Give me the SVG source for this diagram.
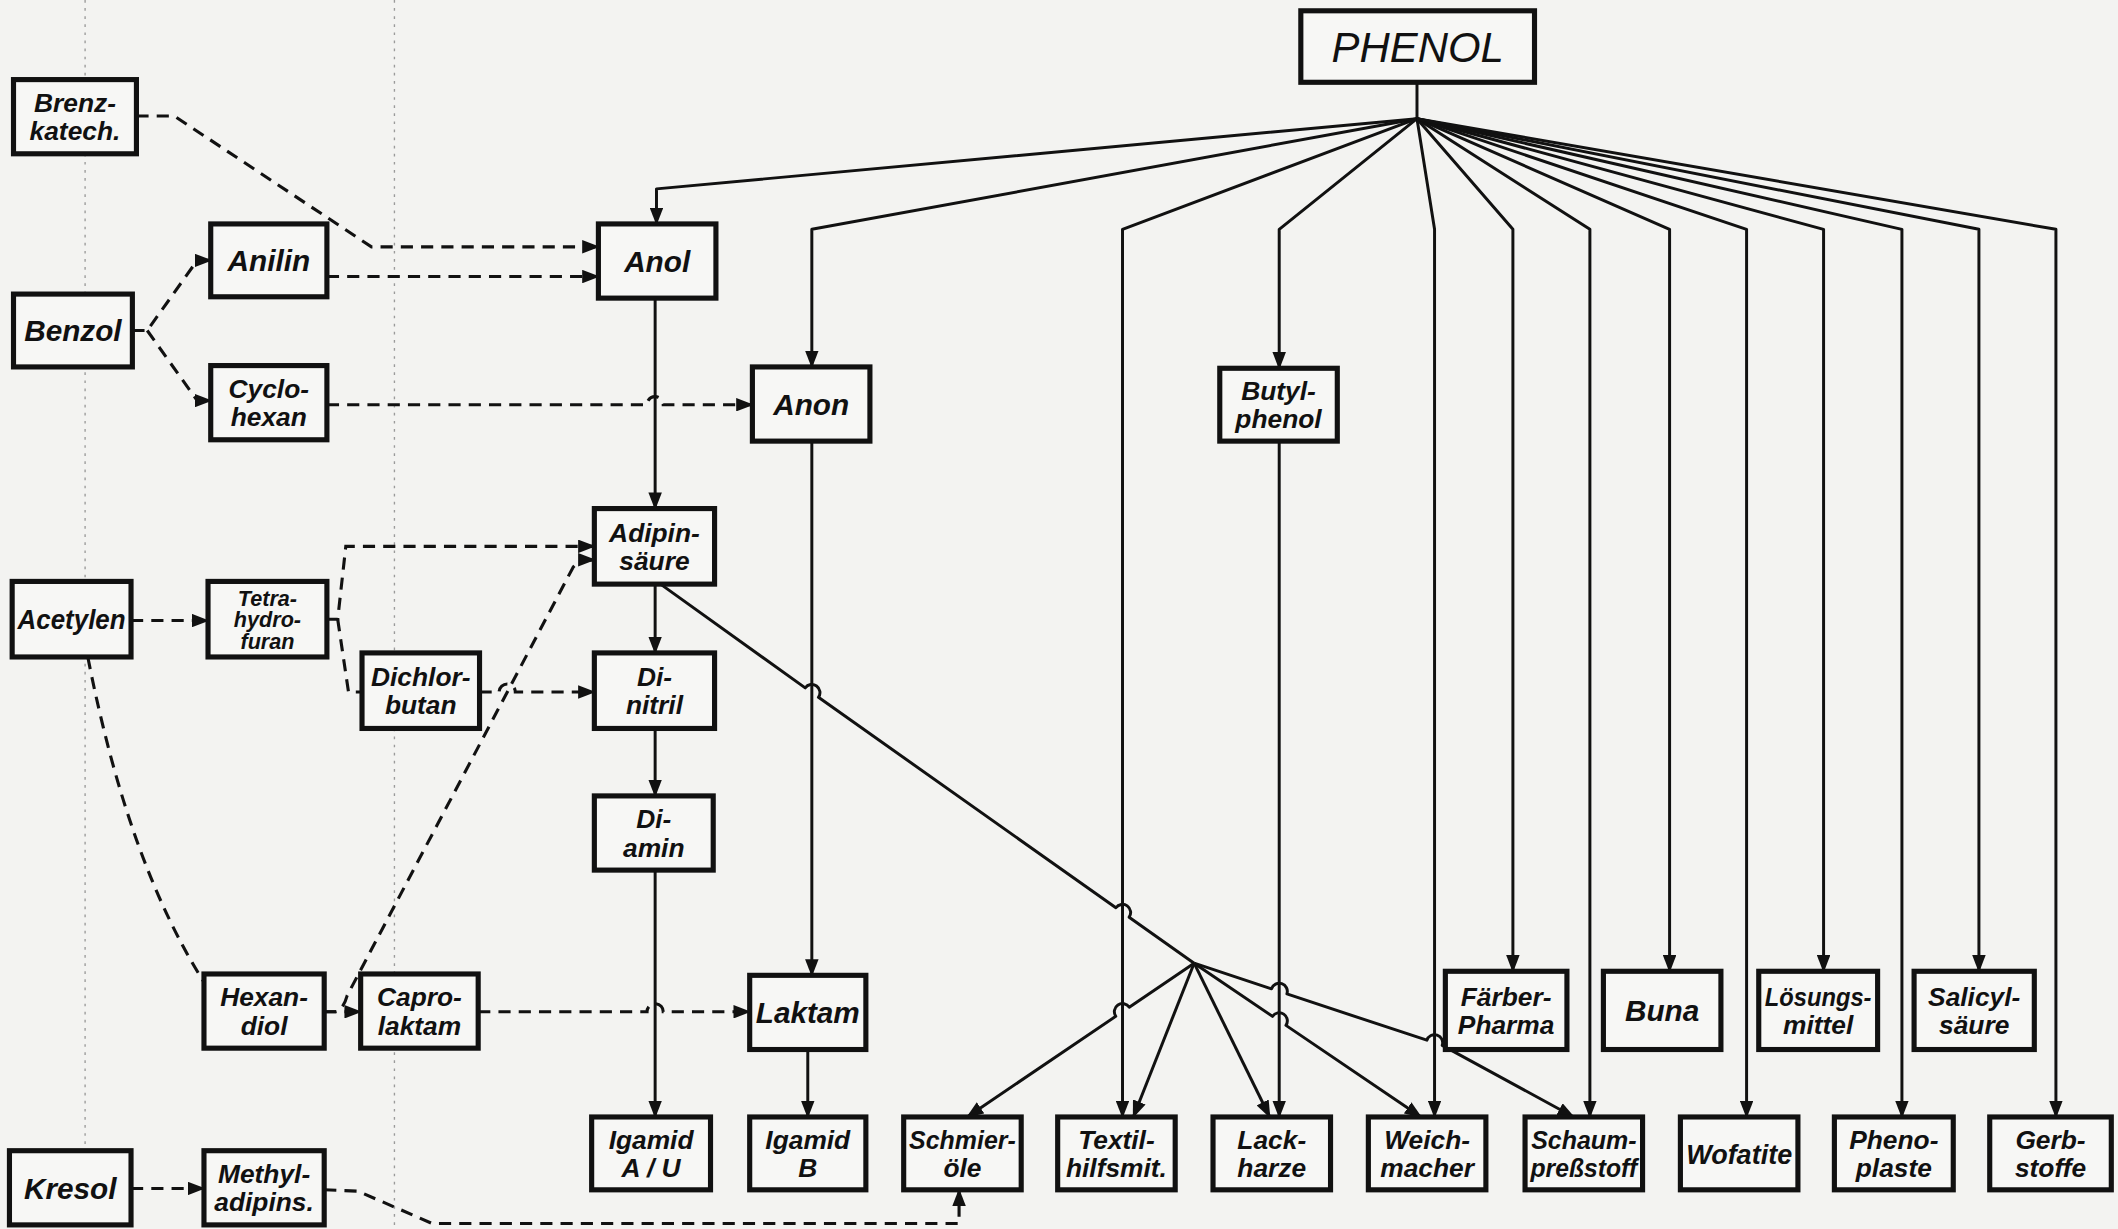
<svg xmlns="http://www.w3.org/2000/svg" width="2118" height="1229" viewBox="0 0 2118 1229">
<style>
.bg{fill:#f3f3f1}
.box{fill:#f7f7f5;stroke:#111;stroke-width:3.8}
.lbl{font-family:"Liberation Sans",Arial,sans-serif;font-weight:bold;font-style:italic;font-size:19.5px;fill:#111;text-anchor:middle}
.one{font-size:22px}
.three{font-size:16px}
.ph{font-weight:normal;font-size:31px}
.solid{fill:none;stroke:#111;stroke-width:2.2;stroke-linejoin:round}
.dash{fill:none;stroke:#111;stroke-width:2.3;stroke-dasharray:9 6}
.fold{fill:none;stroke:#9a9a9a;stroke-width:1;stroke-dasharray:2 4}
</style>
<defs>
<marker id="ah" markerUnits="userSpaceOnUse" markerWidth="13" markerHeight="10" viewBox="0 0 13 10" refX="12" refY="5" orient="auto">
<path d="M0,0 L13,5 L0,10 z" fill="#111"/>
</marker>
</defs>
<rect class="bg" x="0" y="0" width="2118" height="1229"/>
<g transform="scale(1.3508,1.349)">
<g id="folds">
<line class="fold" x1="63" y1="0" x2="63" y2="911"/>
<line class="fold" x1="292" y1="0" x2="292" y2="911"/>
</g>
<g id="connectors">
<path class="solid" d="M1049,61 L1049,88"/>
<path class="solid" marker-end="url(#ah)" d="M1049,88 L486,140 L486,166"/>
<path class="solid" marker-end="url(#ah)" d="M1049,88 L601,170 L601,272"/>
<path class="solid" marker-end="url(#ah)" d="M1049,88 L831,170 L831,828"/>
<path class="solid" marker-end="url(#ah)" d="M1049,88 L947,170 L947,273"/>
<path class="solid" marker-end="url(#ah)" d="M1049,88 L1062,170 L1062,828"/>
<path class="solid" marker-end="url(#ah)" d="M1049,88 L1120,170 L1120,720"/>
<path class="solid" marker-end="url(#ah)" d="M1049,88 L1177,170 L1177,828"/>
<path class="solid" marker-end="url(#ah)" d="M1049,88 L1236,170 L1236,720"/>
<path class="solid" marker-end="url(#ah)" d="M1049,88 L1293,170 L1293,828"/>
<path class="solid" marker-end="url(#ah)" d="M1049,88 L1350,170 L1350,720"/>
<path class="solid" marker-end="url(#ah)" d="M1049,88 L1408,170 L1408,828"/>
<path class="solid" marker-end="url(#ah)" d="M1049,88 L1465,170 L1465,720"/>
<path class="solid" marker-end="url(#ah)" d="M1049,88 L1522,170 L1522,828"/>
<path class="solid" marker-end="url(#ah)" d="M485,221 L485,377"/>
<path class="solid" marker-end="url(#ah)" d="M485,433 L485,484"/>
<path class="solid" marker-end="url(#ah)" d="M485,540 L485,590"/>
<path class="solid" marker-end="url(#ah)" d="M485,645 L485,828"/>
<path class="solid" marker-end="url(#ah)" d="M601,327 L601,723"/>
<path class="solid" marker-end="url(#ah)" d="M598,778 L598,828"/>
<path class="solid" marker-end="url(#ah)" d="M947,327 L947,828"/>
<path class="solid" d="M489,433 L596.1,509.9 A6,6 0 0 1 605.9,516.9 L826.1,672.9 A6,6 0 0 1 835.9,679.9 L884,714"/>
<path class="solid" marker-end="url(#ah)" d="M884,714 L836,746.6 A6,6 0 0 0 826,753.4 L716,828"/>
<path class="solid" marker-end="url(#ah)" d="M884,714 L839,828"/>
<path class="solid" marker-end="url(#ah)" d="M884,714 L940,828"/>
<path class="solid" marker-end="url(#ah)" d="M884,714 L942,753.4 A6,6 0 0 1 952,760.1 L1052,828"/>
<path class="solid" marker-end="url(#ah)" d="M884,714 L941.3,733 A6,6 0 0 1 952.7,736.8 L1056.3,771.1 A6,6 0 0 1 1067.7,774.9 L1165,828"/>
<path class="dash" marker-end="url(#ah)" d="M101,86 L129,86 L275,183 L443,183"/>
<path class="dash" marker-end="url(#ah)" d="M242,205 L443,205"/>
<path class="dash" marker-end="url(#ah)" d="M98,245 L109,245 L146,193 L156,193"/>
<path class="dash" marker-end="url(#ah)" d="M109,245 L146,297 L156,297"/>
<path class="dash" marker-end="url(#ah)" d="M242,300 L479,300 A6,6 0 0 1 491,300 L557,300"/>
<path class="dash" marker-end="url(#ah)" d="M97,460 L154,460"/>
<path class="dash" marker-end="url(#ah)" d="M242,459 L250,459 L256,405 L440,405"/>
<path class="dash" d="M250,459 L258,513 L268,513"/>
<path class="dash" marker-end="url(#ah)" d="M355,513 L369.5,513 A6,6 0 0 1 381.5,513 L440,513"/>
<path class="dash" marker-end="url(#ah)" d="M240,750 L248,750 Q254,749 257,738 L424,421 Q428,415 440,415"/>
<path class="dash" marker-end="url(#ah)" d="M240,750 L267,750"/>
<path class="dash" d="M65,487 Q95,640 151,728"/>
<path class="dash" marker-end="url(#ah)" d="M354,750 L479,750 A6,6 0 0 1 491,750 L555,750"/>
<path class="dash" marker-end="url(#ah)" d="M97,881 L151,881"/>
<path class="dash" marker-end="url(#ah)" d="M240,882 L265,883 L320,907 L710,907 L710,882"/>
</g>
<g id="phenol"><rect class="box" x="963" y="8" width="173" height="53"/><text class="lbl ph" x="1049.5" y="46">PHENOL</text></g>
<g id="brenzkatech"><rect class="box" x="10" y="59" width="91" height="55"/><text class="lbl" x="55.5" y="83">Brenz-</text><text class="lbl" x="55.5" y="104">katech.</text></g>
<g id="benzol"><rect class="box" x="10" y="218" width="88" height="54"/><text class="lbl one" x="54" y="253">Benzol</text></g>
<g id="anilin"><rect class="box" x="156" y="166" width="86" height="54"/><text class="lbl one" x="199" y="201">Anilin</text></g>
<g id="cyclohexan"><rect class="box" x="156" y="271" width="86" height="55"/><text class="lbl" x="199" y="295">Cyclo-</text><text class="lbl" x="199" y="316">hexan</text></g>
<g id="acetylen"><rect class="box" x="9" y="431" width="88" height="56"/><text class="lbl" x="53" y="466" style="font-size:20px" textLength="80" lengthAdjust="spacingAndGlyphs">Acetylen</text></g>
<g id="tetrahydrofuran"><rect class="box" x="154" y="431" width="88" height="56"/><text class="lbl three" x="198" y="449">Tetra-</text><text class="lbl three" x="198" y="465">hydro-</text><text class="lbl three" x="198" y="481">furan</text></g>
<g id="dichlorbutan"><rect class="box" x="268" y="484" width="87" height="56"/><text class="lbl" x="311.5" y="508.5">Dichlor-</text><text class="lbl" x="311.5" y="529.5">butan</text></g>
<g id="hexandiol"><rect class="box" x="151" y="722" width="89" height="55"/><text class="lbl" x="195.5" y="746">Hexan-</text><text class="lbl" x="195.5" y="767">diol</text></g>
<g id="caprolaktam"><rect class="box" x="267" y="722" width="87" height="55"/><text class="lbl" x="310.5" y="746">Capro-</text><text class="lbl" x="310.5" y="767">laktam</text></g>
<g id="kresol"><rect class="box" x="7" y="853" width="90" height="55"/><text class="lbl one" x="52" y="888.5">Kresol</text></g>
<g id="methyladipins"><rect class="box" x="151" y="853" width="89" height="55"/><text class="lbl" x="195.5" y="877">Methyl-</text><text class="lbl" x="195.5" y="898">adipins.</text></g>
<g id="anol"><rect class="box" x="443" y="166" width="87" height="55"/><text class="lbl one" x="486.5" y="201.5">Anol</text></g>
<g id="adipinsaeure"><rect class="box" x="440" y="377" width="89" height="56"/><text class="lbl" x="484.5" y="401.5">Adipin-</text><text class="lbl" x="484.5" y="422.5">säure</text></g>
<g id="dinitril"><rect class="box" x="440" y="484" width="89" height="56"/><text class="lbl" x="484.5" y="508.5">Di-</text><text class="lbl" x="484.5" y="529.5">nitril</text></g>
<g id="diamin"><rect class="box" x="440" y="590" width="88" height="55"/><text class="lbl" x="484" y="614">Di-</text><text class="lbl" x="484" y="635">amin</text></g>
<g id="igamidAU"><rect class="box" x="438" y="828" width="88" height="54"/><text class="lbl" x="482" y="851.5">Igamid</text><text class="lbl" x="482" y="872.5">A / U</text></g>
<g id="anon"><rect class="box" x="557" y="272" width="87" height="55"/><text class="lbl one" x="600.5" y="307.5">Anon</text></g>
<g id="laktam"><rect class="box" x="555" y="723" width="86" height="55"/><text class="lbl one" x="598" y="758.5">Laktam</text></g>
<g id="igamidB"><rect class="box" x="555" y="828" width="86" height="54"/><text class="lbl" x="598" y="851.5">Igamid</text><text class="lbl" x="598" y="872.5">B</text></g>
<g id="butylphenol"><rect class="box" x="903" y="273" width="87" height="54"/><text class="lbl" x="946.5" y="296.5">Butyl-</text><text class="lbl" x="946.5" y="317.5">phenol</text></g>
<g id="schmieroele"><rect class="box" x="669" y="828" width="87" height="54"/><text class="lbl" x="712.5" y="851.5" textLength="79" lengthAdjust="spacingAndGlyphs">Schmier-</text><text class="lbl" x="712.5" y="872.5">öle</text></g>
<g id="textilhilfsmit"><rect class="box" x="783" y="828" width="87" height="54"/><text class="lbl" x="826.5" y="851.5">Textil-</text><text class="lbl" x="826.5" y="872.5">hilfsmit.</text></g>
<g id="lackharze"><rect class="box" x="898" y="828" width="87" height="54"/><text class="lbl" x="941.5" y="851.5">Lack-</text><text class="lbl" x="941.5" y="872.5">harze</text></g>
<g id="weichmacher"><rect class="box" x="1013" y="828" width="87" height="54"/><text class="lbl" x="1056.5" y="851.5">Weich-</text><text class="lbl" x="1056.5" y="872.5">macher</text></g>
<g id="schaumpressstoff"><rect class="box" x="1129" y="828" width="87" height="54"/><text class="lbl" x="1172.5" y="851.5" textLength="78" lengthAdjust="spacingAndGlyphs">Schaum-</text><text class="lbl" x="1172.5" y="872.5" textLength="79" lengthAdjust="spacingAndGlyphs">preßstoff</text></g>
<g id="wofatite"><rect class="box" x="1244" y="828" width="87" height="54"/><text class="lbl" x="1287.5" y="862.5" style="font-size:20px">Wofatite</text></g>
<g id="phenoplaste"><rect class="box" x="1358" y="828" width="88" height="54"/><text class="lbl" x="1402" y="851.5">Pheno-</text><text class="lbl" x="1402" y="872.5">plaste</text></g>
<g id="gerbstoffe"><rect class="box" x="1473" y="828" width="90" height="54"/><text class="lbl" x="1518" y="851.5">Gerb-</text><text class="lbl" x="1518" y="872.5">stoffe</text></g>
<g id="faerberpharma"><rect class="box" x="1070" y="720" width="90" height="58"/><text class="lbl" x="1115" y="745.5">Färber-</text><text class="lbl" x="1115" y="766.5">Pharma</text></g>
<g id="buna"><rect class="box" x="1187" y="720" width="87" height="58"/><text class="lbl one" x="1230.5" y="757">Buna</text></g>
<g id="loesungsmittel"><rect class="box" x="1302" y="720" width="88" height="58"/><text class="lbl" x="1346" y="745.5" textLength="79" lengthAdjust="spacingAndGlyphs">Lösungs-</text><text class="lbl" x="1346" y="766.5">mittel</text></g>
<g id="salicylsaeure"><rect class="box" x="1417" y="720" width="89" height="58"/><text class="lbl" x="1461.5" y="745.5">Salicyl-</text><text class="lbl" x="1461.5" y="766.5">säure</text></g>
</g>
</svg>
